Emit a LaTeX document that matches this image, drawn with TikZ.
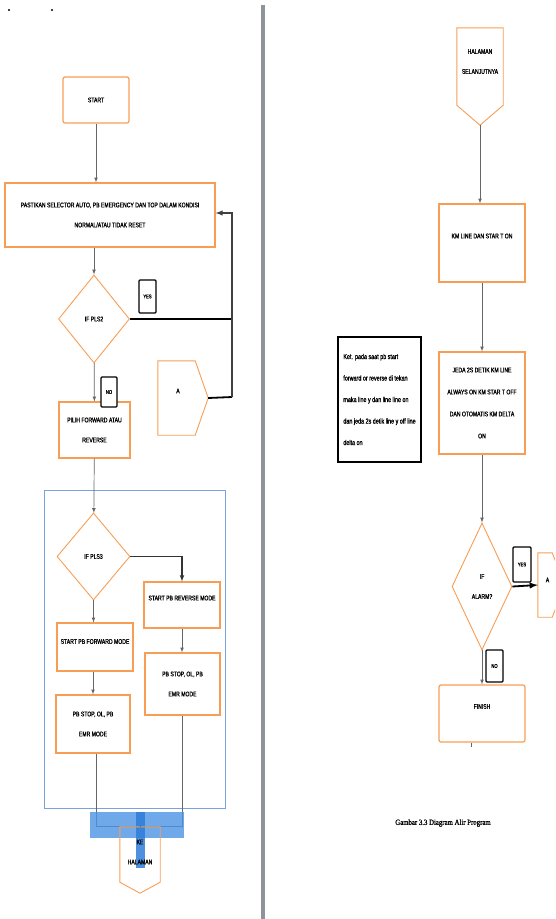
\documentclass[tikz,border=0pt]{standalone}
\usepackage{fontspec}
\setmainfont{Liberation Sans}[FakeStretch=0.75,FakeBold=1]
\newfontfamily\judulfont{Liberation Serif}[FakeStretch=0.85,FakeBold=1.2]
\usepackage{tikz}
\usetikzlibrary{shapes.geometric}
\definecolor{oranye}{rgb}{0.97,0.62,0.33}
\definecolor{biru}{rgb}{0.47,0.64,0.87}
\definecolor{garisabu}{rgb}{0.40,0.40,0.40}
\definecolor{pemisah}{rgb}{0.56,0.58,0.61}
\definecolor{sorot}{rgb}{0.30,0.58,0.90}
\definecolor{sorottua}{rgb}{0.18,0.49,0.85}

\begin{document}
\begin{tikzpicture}[x=1pt,y=-1pt]
	
	\tikzset{>=latex}
	\tikzset{kotak/.style={draw=oranye,line width=1.2pt,align=center,inner sep=0pt,font=\fontsize{6.8}{20}\selectfont}}
	\tikzset{ketupat/.style={diamond,draw=oranye,line width=0.9pt,align=center,inner sep=0pt,font=\fontsize{6.8}{20}\selectfont}}
	\tikzset{konektor/.style={inner sep=0pt,align=center,font=\fontsize{6.8}{20}\selectfont}}
	\tikzset{jawab/.style={draw=black,line width=1.1pt,rounded corners=1pt,inner sep=0pt,font=\fontsize{5.5}{5}\selectfont}}
	\tikzset{garis/.style={draw=garisabu,line width=0.7pt}}
	\tikzset{tebal/.style={draw=black,line width=1.8pt}}
	
	\useasboundingbox (0,0) rectangle (555,919);
	\clip (0,0) rectangle (555,919);
	
	% titik kecil di pojok
	\fill (9,10) circle (1.2);
	\fill (52,10) circle (1.2);
	
	% garis pemisah halaman
	\draw[pemisah, line width=4pt] (263,5) -- (263,919);
	
	% kolom kiri
	\node[kotak,rounded corners=2pt,minimum width=66,minimum height=46] (start) at (96,100) {START};
	\node[kotak,minimum width=210,minimum height=64] (cek) at (110,215) {PASTIKAN SELECTOR AUTO, PB EMERGENCY DAN TOP DALAM KONDISI\\NORMAL/ATAU TIDAK RESET};
	\node[ketupat,minimum width=71,minimum height=88] (if1) at (94,319) {IF PLS2};
	\node[kotak,minimum width=71,minimum height=56] (pilih) at (94.5,430) {PILIH FORWARD ATAU\\REVERSE};
	\node[konektor,minimum width=50,minimum height=74,text depth=14pt] (a1) at (183,398) {\hspace*{-10pt}A};
	\draw[oranye,line width=0.9pt] (a1.north west) -- ([xshift=-13pt]a1.north east) -- (a1.east)
		-- ([xshift=-13pt]a1.south east) -- (a1.south west) -- cycle;
	\node[jawab,minimum width=17,minimum height=33] (ya1) at (147.5,296.5) {YES};
	
	% blok mode
	\draw[biru,line width=0.9pt] (44,490) rectangle (225,808);
	\node[ketupat,minimum width=73,minimum height=87] (if2) at (93.5,556.5) {IF PLS3};
	\node[kotak,minimum width=76,minimum height=46,text depth=14pt] (rev) at (182,605) {START PB REVERSE MODE};
	\node[kotak,minimum width=76,minimum height=48,text depth=11pt] (fwd) at (95,647) {START PB FORWARD MODE};
	\node[kotak,minimum width=75,minimum height=62] (stop2) at (182.5,684) {PB STOP, OL, PB\\EMR MODE};
	\node[kotak,minimum width=74,minimum height=58] (stop1) at (93,724) {PB STOP, OL, PB\\EMR MODE};
	
	% panah kolom kiri
	\draw[garis,->] (start) -- (start |- cek.north);
	\draw[garis,->] (cek.south -| if1) -- (if1);
	\draw[garis,->] (if1) -- (pilih);
	\draw[garis,->] (pilih) -- (if2);
	\draw[garis,->] (if2) -- (if2 |- fwd.north);
	\draw[garis,->] (fwd.south -| stop1) -- (stop1);
	\draw[garis,->,line width=1.1pt,draw=black!80] (if2.east) -| (rev.north);
	\draw[garis,->] (rev) -- (rev |- stop2.north);
	\node[jawab,fill=white,minimum width=16,minimum height=30] (tidak1) at (109,392) {NO};
	
	% umpan balik
	\coordinate (t1) at (232,319);
	\coordinate (t2) at (232,397);
	\coordinate (t3) at (232,213);
	\draw[tebal] (if1.east) -- (t1);
	\draw[tebal] (a1.east) -- (t2);
	\draw[garis,line width=1.4pt,draw=black!75,->] (t2) -- (t3) -- (t3 -| cek.east);
	
	% gabungan ke halaman berikut
	\coordinate (gabung) at (140,826);
	\draw[garis] (stop1.south -| 96,0) |- (gabung) -| (stop2.south);
	\fill[sorot,opacity=0.8] (90,812) rectangle (184,838);
	\fill[sorottua,opacity=0.85] (136,812) rectangle (145,868);
	\node[konektor,minimum width=40,minimum height=66,text depth=16pt] (halkiri) at (140,860) {KE\\HALAMAN};
	\draw[oranye,line width=0.9pt] (halkiri.north west) -- (halkiri.north east) -- ([yshift=11pt]halkiri.south east)
		-- (halkiri.south) -- ([yshift=11pt]halkiri.south west) -- cycle;
	\draw[garis] (gabung) -- (halkiri.north);
	
	% kolom kanan
	\node[konektor,minimum width=46,minimum height=97,text depth=30pt] (hal) at (480,76.5) {HALAMAN\\SELANJUTNYA};
	\draw[oranye,line width=0.9pt] (hal.north west) -- (hal.north east) -- ([yshift=20pt]hal.south east)
		-- (hal.south) -- ([yshift=20pt]hal.south west) -- cycle;
	\node[kotak,minimum width=86,minimum height=78,text depth=14pt] (kmline) at (482,243) {KM LINE DAN STAR T ON};
	\node[kotak,minimum width=86,minimum height=102,font=\fontsize{6.8}{22}\selectfont] (jeda) at (482,403) {JEDA 2S DETIK KM LINE\\ALWAYS ON KM STAR T OFF\\DAN OTOMATIS KM DELTA\\ON};
	\node[draw=black,line width=1.1pt,inner sep=3pt,minimum width=83,minimum height=125,align=left,font=\fontsize{7.2}{21.5}\selectfont] (ket) at (379.5,399.5) {Ket. pada saat pb start\\forward or reverse di tekan\\maka line y dan line line on\\dan jeda 2s detik line y off line\\delta on};
	\node[ketupat,minimum width=60,minimum height=127] (if3) at (482,586.5) {IF\\ALARM?};
	\node[konektor,minimum width=27,minimum height=64,text depth=10pt] (a2) at (551.5,585) {\hspace*{-8pt}A};
	\draw[oranye,line width=0.9pt] (a2.north west) -- ([xshift=-13pt]a2.north east) -- (a2.east)
		-- ([xshift=-13pt]a2.south east) -- (a2.south west) -- cycle;
	\node[kotak,rounded corners=2pt,minimum width=86,minimum height=57,text depth=14pt] (finish) at (482,713.5) {FINISH};
	\node[jawab,minimum width=18,minimum height=35] (ya2) at (522,564.5) {YES};
	
	% panah kolom kanan
	\draw[garis,->] (hal.south) -- (hal.south |- kmline.north);
	\draw[garis,->] (kmline) -- (jeda);
	\draw[garis,->] (jeda) -- (if3);
	\draw[tebal,->] (if3.east) -- (a2.west);
	\draw[garis,->] (if3) -- (finish);
	\node[jawab,fill=white,minimum width=17,minimum height=32] (tidak2) at (494.5,666) {NO};
	\draw[garis] (471,743) -- (471,747);
	
	% judul gambar
	\node[font=\judulfont\fontsize{8}{9}\selectfont] (judul) at (443,823) {Gambar 3.3 Diagram Alir Program};
	
\end{tikzpicture}
\end{document}
